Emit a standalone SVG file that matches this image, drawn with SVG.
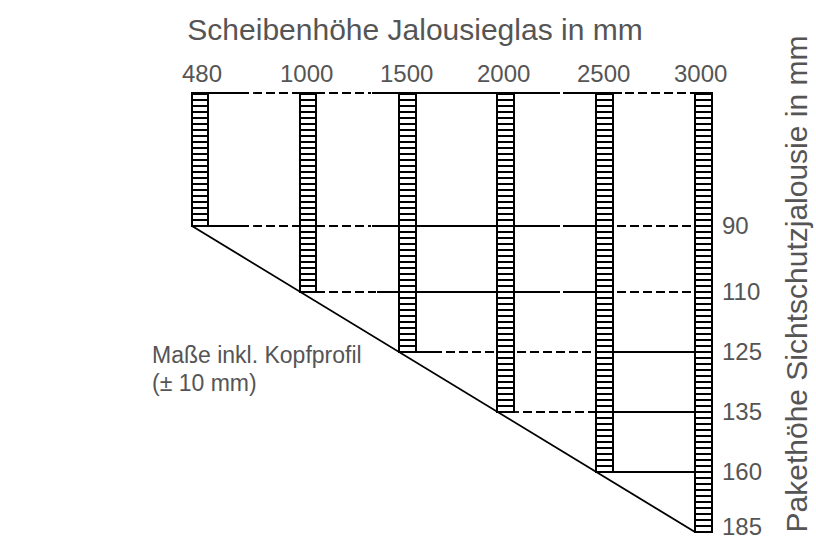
<svg xmlns="http://www.w3.org/2000/svg" width="816" height="540" viewBox="0 0 816 540">
<style>
  .t { font-family: "Liberation Sans", Arial, sans-serif; fill: #555; }
  .num { font-size: 24px; }
  .col { fill: url(#rungs); stroke: #000; stroke-width: 2; }
  .ln { stroke: #000; stroke-width: 1.8; fill: none; }
  .dash { stroke-dasharray: 9 4; }
</style>
<defs>
  <pattern id="rungs" patternUnits="userSpaceOnUse" x="0" y="93" width="20" height="6">
    <rect x="0" y="0" width="20" height="6" fill="#fff"/>
    <rect x="0" y="0" width="20" height="2" fill="#000"/>
  </pattern>
</defs>
<rect width="816" height="540" fill="#fff"/>

<text class="t" x="415" y="40" font-size="30" text-anchor="middle">Scheibenhöhe Jalousieglas in mm</text>
<text class="t" transform="translate(807,284) rotate(-90)" font-size="30" text-anchor="middle">Pakethöhe Sichtschutzjalousie in mm</text>
<text class="t" x="152" y="363" font-size="23">Maße inkl. Kopfprofil</text>
<text class="t" x="152" y="391" font-size="23">(± 10 mm)</text>

<g id="connectors">
  <line class="ln" x1="192" y1="226" x2="695" y2="532"/>
  <!-- top line -->
  <line class="ln" x1="192" y1="93" x2="249" y2="93"/>
  <line class="ln dash" x1="253" y1="93" x2="300" y2="93"/>
  <line class="ln dash" x1="316" y1="93" x2="371" y2="93"/>
  <line class="ln" x1="372" y1="93" x2="560" y2="93"/>
  <line class="ln" x1="563" y1="93" x2="622" y2="93"/>
  <line class="ln dash" x1="625" y1="93" x2="695" y2="93"/>
  <!-- 90 -->
  <line class="ln" x1="192" y1="226" x2="249" y2="226"/>
  <line class="ln dash" x1="253" y1="226" x2="300" y2="226"/>
  <line class="ln dash" x1="316" y1="226" x2="371" y2="226"/>
  <line class="ln" x1="372" y1="226" x2="560" y2="226"/>
  <line class="ln" x1="563" y1="226" x2="613" y2="226"/>
  <line class="ln dash" x1="617" y1="226" x2="712" y2="226"/>
  <!-- 110 -->
  <line class="ln dash" x1="316" y1="292" x2="376" y2="292"/>
  <line class="ln" x1="377" y1="292" x2="560" y2="292"/>
  <line class="ln" x1="563" y1="292" x2="613" y2="292"/>
  <line class="ln dash" x1="617" y1="292" x2="712" y2="292"/>
  <!-- 125 -->
  <line class="ln" x1="399" y1="352" x2="442" y2="352"/>
  <line class="ln dash" x1="446" y1="352" x2="497" y2="352"/>
  <line class="ln dash" x1="517" y1="352" x2="596" y2="352"/>
  <line class="ln" x1="596" y1="352" x2="712" y2="352"/>
  <!-- 135 -->
  <line class="ln" x1="497" y1="412" x2="519" y2="412"/>
  <line class="ln dash" x1="523" y1="412" x2="596" y2="412"/>
  <line class="ln" x1="596" y1="412" x2="712" y2="412"/>
  <!-- 160 -->
  <line class="ln" x1="596" y1="472" x2="712" y2="472"/>
</g>

<g id="col-480"><rect class="col" x="192" y="93" width="16" height="133"/><text class="t num" x="182" y="82">480</text></g>
<g id="col-1000"><rect class="col" x="300" y="93" width="16" height="199"/><text class="t num" x="280" y="82">1000</text></g>
<g id="col-1500"><rect class="col" x="399" y="93" width="17" height="259"/><text class="t num" x="380" y="82">1500</text></g>
<g id="col-2000"><rect class="col" x="497" y="93" width="17" height="319"/><text class="t num" x="477" y="82">2000</text></g>
<g id="col-2500"><rect class="col" x="596" y="93" width="17" height="379"/><text class="t num" x="577" y="82">2500</text></g>
<g id="col-3000"><rect class="col" x="695" y="93" width="17" height="439"/><text class="t num" x="674" y="82">3000</text></g>

<g id="scale">
  <text class="t num" x="722" y="234">90</text>
  <text class="t num" x="722" y="300">110</text>
  <text class="t num" x="722" y="360">125</text>
  <text class="t num" x="722" y="420">135</text>
  <text class="t num" x="722" y="480">160</text>
  <text class="t num" x="722" y="535">185</text>
</g>
</svg>
